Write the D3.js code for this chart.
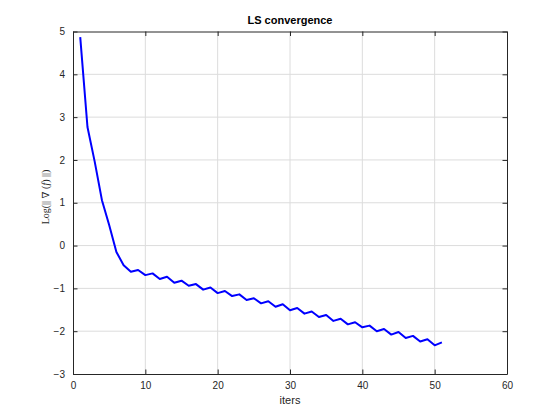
<!DOCTYPE html>
<html>
<head>
<meta charset="utf-8">
<script src="https://cdn.jsdelivr.net/npm/d3@7"></script>
<style>
  body { margin: 0; background: #fff; }
  svg { display: block; }
  text { font-family: "Liberation Sans", Arial, Helvetica, sans-serif; }
</style>
</head>
<body>
<svg id="chart" width="560" height="420"></svg>
<script>
var iters = d3.range(1, 52);
var logGrad = [4.87, 2.77, 1.96, 1.06, 0.48, -0.15, -0.46, -0.61, -0.57, -0.69,
  -0.65, -0.78, -0.73, -0.87, -0.82, -0.94, -0.90, -1.03, -0.98, -1.11,
  -1.06, -1.18, -1.14, -1.27, -1.23, -1.35, -1.30, -1.43, -1.37, -1.51,
  -1.46, -1.59, -1.54, -1.67, -1.62, -1.76, -1.71, -1.84, -1.79, -1.91,
  -1.87, -2.00, -1.95, -2.08, -2.02, -2.16, -2.11, -2.24, -2.19, -2.33,
  -2.26];
var xTicks = [0, 10, 20, 30, 40, 50, 60];
var yTicks = [-3, -2, -1, 0, 1, 2, 3, 4, 5];

var svg = d3.select("#chart");
// plot box (note: "top" is taken by window.top)
var pl = 73, pr = 507, pt = 31.5, pb = 374;

var x = d3.scaleLinear().domain([0, 60]).range([pl, pr]);
var y = d3.scaleLinear().domain([-3, 5]).range([pb, pt]);

// grid
var grid = svg.append("g").attr("stroke", "#dcdcdc").attr("stroke-width", 1);
xTicks.slice(1, -1).forEach(function(t) {
  grid.append("line").attr("x1", x(t)).attr("x2", x(t)).attr("y1", pt).attr("y2", pb);
});
yTicks.slice(1, -1).forEach(function(t) {
  grid.append("line").attr("x1", pl).attr("x2", pr).attr("y1", y(t)).attr("y2", y(t));
});

// axes, ticks pointing in
var tickLen = 4.5;
var xAxis = d3.axisBottom(x).tickValues(xTicks).tickSizeInner(-tickLen).tickSizeOuter(0).tickPadding(8);
var yAxis = d3.axisLeft(y).tickValues(yTicks).tickSizeInner(-tickLen).tickSizeOuter(0).tickPadding(8);
var xTop = d3.axisTop(x).tickValues(xTicks).tickSizeInner(-tickLen).tickSizeOuter(0).tickFormat("");
var yRight = d3.axisRight(y).tickValues(yTicks).tickSizeInner(-tickLen).tickSizeOuter(0).tickFormat("");

[[xAxis, "translate(0," + pb + ")"], [yAxis, "translate(" + pl + ",0)"],
 [xTop, "translate(0," + pt + ")"], [yRight, "translate(" + pr + ",0)"]].forEach(function(a) {
  var g = svg.append("g").attr("transform", a[1]).call(a[0]);
  g.select(".domain").attr("stroke", "#262626");
  g.selectAll(".tick line").attr("stroke", "#262626");
  g.selectAll(".tick text").attr("fill", "#262626").attr("font-size", 10)
    .attr("font-family", "'Liberation Sans', Arial, sans-serif");
});

// line
var line = d3.line()
  .x(function(d, i) { return x(iters[i]); })
  .y(function(d) { return y(d); });

svg.append("path")
  .datum(logGrad)
  .attr("fill", "none")
  .attr("stroke", "#0000ff")
  .attr("stroke-width", 2)
  .attr("stroke-linejoin", "round")
  .attr("d", line);

// labels
svg.append("text")
  .attr("x", (pl + pr) / 2).attr("y", 24)
  .attr("text-anchor", "middle").attr("font-size", 11).attr("font-weight", "bold")
  .attr("fill", "#000")
  .text("LS convergence");

svg.append("text")
  .attr("x", (pl + pr) / 2).attr("y", 404)
  .attr("text-anchor", "middle").attr("font-size", 11).attr("fill", "#262626")
  .text("iters");

var ylab = svg.append("text")
  .attr("transform", "translate(49,197) rotate(-90)")
  .attr("text-anchor", "middle").attr("font-size", 10).attr("fill", "#262626")
  .style("font-family", "'Liberation Serif', 'DejaVu Serif', serif");
ylab.append("tspan").text("Log(|| ∇ (");
ylab.append("tspan").attr("font-style", "italic").text("f");
ylab.append("tspan").text(") ||)");
</script>
</body>
</html>
